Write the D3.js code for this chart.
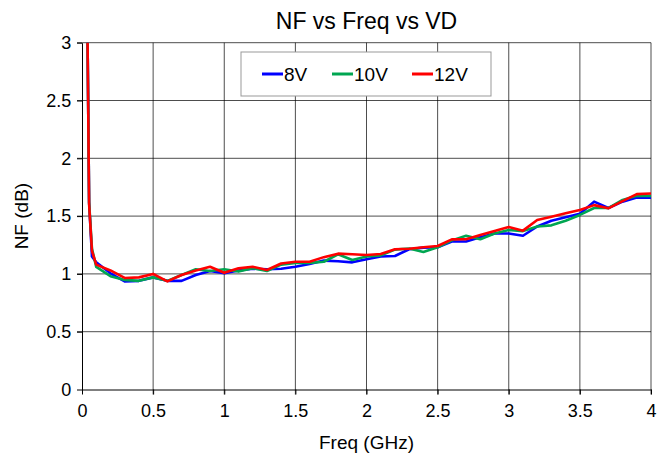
<!DOCTYPE html>
<html>
<head>
<meta charset="utf-8">
<script src="https://cdn.jsdelivr.net/npm/d3@7"></script>
<style>
  body { margin: 0; background: #fff; }
  text { font-family: Arial, "Liberation Sans", sans-serif; }
</style>
</head>
<body>
<div id="chart"></div>
<script>
// frequency points (GHz)
var freq = [0.03, 0.05, 0.07, 0.1, 0.2, 0.3, 0.4, 0.5, 0.6, 0.7, 0.8, 0.9, 1.0,
  1.1, 1.2, 1.3, 1.4, 1.5, 1.6, 1.7, 1.8, 1.9, 2.0, 2.1, 2.2, 2.3, 2.4, 2.5,
  2.6, 2.7, 2.8, 2.9, 3.0, 3.1, 3.2, 3.3, 3.4, 3.5, 3.6, 3.7, 3.8, 3.9, 4.0]

var nf8 = [4.2, 1.62, 1.15, 1.10, 1.005, 0.935, 0.94, 0.97, 0.94, 0.94, 0.99, 1.025, 1.005,
  1.03, 1.045, 1.04, 1.045, 1.062, 1.085, 1.115, 1.11, 1.10, 1.126, 1.15, 1.155, 1.213, 1.227, 1.23,
  1.28, 1.28, 1.317, 1.35, 1.35, 1.33, 1.41, 1.46, 1.49, 1.52, 1.625, 1.57, 1.625, 1.66, 1.66]

var nf10 = [4.2, 1.62, 1.22, 1.06, 0.98, 0.948, 0.94, 0.97, 0.94, 0.99, 1.04, 1.025, 1.04,
  1.02, 1.05, 1.025, 1.08, 1.095, 1.095, 1.105, 1.17, 1.12, 1.15, 1.16, 1.21, 1.22, 1.19, 1.23,
  1.29, 1.33, 1.30, 1.35, 1.38, 1.37, 1.41, 1.42, 1.46, 1.51, 1.57, 1.57, 1.64, 1.675, 1.675]

var nf12 = [4.2, 1.60, 1.20, 1.08, 1.03, 0.965, 0.97, 1.0, 0.935, 0.99, 1.03, 1.062, 1.01,
  1.048, 1.062, 1.034, 1.09, 1.105, 1.105, 1.145, 1.175, 1.17, 1.163, 1.172, 1.213, 1.218, 1.23, 1.241,
  1.299, 1.30, 1.337, 1.371, 1.405, 1.374, 1.466, 1.495, 1.524, 1.553, 1.595, 1.567, 1.63, 1.69, 1.695]

var seriesNames = ["8V", "10V", "12V"]
var seriesColors = ["#0000ff", "#00a651", "#ff0000"]
var xTicks = [0, 0.5, 1, 1.5, 2, 2.5, 3, 3.5, 4]
var yTicks = [0, 0.5, 1, 1.5, 2, 2.5, 3]

function makeChart() {
  var width = 657
  var height = 461
  var plotLeft = 82, plotRight = 651, plotTop = 42.7, plotBottom = 389.5

  var svg = d3.select("#chart").append("svg")
    .attr("width", width)
    .attr("height", height)

  var x = d3.scaleLinear().domain([0, 4]).range([plotLeft, plotRight])
  var y = d3.scaleLinear().domain([0, 3]).range([plotBottom, plotTop])

  //grid
  svg.append("g").selectAll("line")
    .data(xTicks.slice(1))
    .enter().append("line")
    .attr("x1", function (d) { return x(d) })
    .attr("x2", function (d) { return x(d) })
    .attr("y1", plotTop)
    .attr("y2", plotBottom + 5)
    .attr("stroke", "#000")
    .attr("stroke-width", 0.7)

  svg.append("g").selectAll("line")
    .data(yTicks.slice(1))
    .enter().append("line")
    .attr("y1", function (d) { return y(d) })
    .attr("y2", function (d) { return y(d) })
    .attr("x1", plotLeft - 5)
    .attr("x2", plotRight)
    .attr("stroke", "#000")
    .attr("stroke-width", 0.7)

  //axes
  var xAxis = svg.append("g")
    .attr("transform", "translate(0," + plotBottom + ")")
    .call(d3.axisBottom(x).tickValues(xTicks).tickSize(5).tickSizeOuter(0).tickFormat(d3.format("")))
  xAxis.selectAll("text").attr("font-size", 18).attr("dy", "1.1em")

  var yAxis = svg.append("g")
    .attr("transform", "translate(" + plotLeft + ",0)")
    .call(d3.axisLeft(y).tickValues(yTicks).tickSize(5).tickSizeOuter(0).tickFormat(d3.format("")))
  yAxis.selectAll("text").attr("font-size", 18).attr("dx", "-0.15em")

  //clip so the spike stops at top of plot
  svg.append("clipPath").attr("id", "plotclip")
    .append("rect")
    .attr("x", plotLeft).attr("y", plotTop)
    .attr("width", plotRight - plotLeft).attr("height", plotBottom - plotTop)

  var allSeries = [nf8, nf10, nf12]
  var line = d3.line()
    .x(function (d, i) { return x(freq[i]) })
    .y(function (d) { return y(d) })

  svg.append("g")
    .attr("clip-path", "url(#plotclip)")
    .selectAll("path")
    .data(allSeries)
    .enter().append("path")
    .attr("d", line)
    .attr("fill", "none")
    .attr("stroke", function (d, i) { return seriesColors[i] })
    .attr("stroke-width", 2.6)
    .attr("stroke-linejoin", "round")

  //titles
  svg.append("text")
    .attr("x", (plotLeft + plotRight) / 2)
    .attr("y", 29)
    .attr("text-anchor", "middle")
    .attr("font-size", 23)
    .text("NF vs Freq vs VD")

  svg.append("text")
    .attr("x", (plotLeft + plotRight) / 2)
    .attr("y", 449)
    .attr("text-anchor", "middle")
    .attr("font-size", 19)
    .text("Freq (GHz)")

  svg.append("text")
    .attr("transform", "translate(28," + ((plotTop + plotBottom) / 2) + ") rotate(-90)")
    .attr("text-anchor", "middle")
    .attr("font-size", 19)
    .text("NF (dB)")

  //legend
  var legend = svg.append("g")
  legend.append("rect")
    .attr("x", 241).attr("y", 52)
    .attr("width", 250).attr("height", 44)
    .attr("fill", "#fff")
    .attr("stroke", "#999")
    .attr("stroke-width", 1)

  var legendX = [262, 332, 412]
  seriesNames.forEach(function (name, i) {
    legend.append("line")
      .attr("x1", legendX[i]).attr("x2", legendX[i] + 21)
      .attr("y1", 74).attr("y2", 74)
      .attr("stroke", seriesColors[i])
      .attr("stroke-width", 3)
    legend.append("text")
      .attr("x", legendX[i] + 22)
      .attr("y", 80.5)
      .attr("font-size", 19)
      .text(name)
  })
}

makeChart()
</script>
</body>
</html>
